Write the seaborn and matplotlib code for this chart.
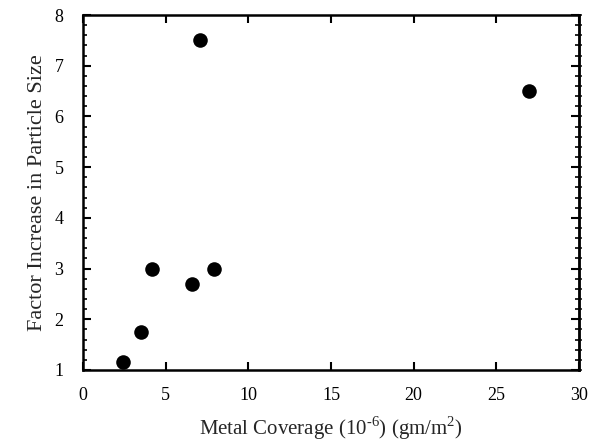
import numpy as np
import pandas as pd
import matplotlib
matplotlib.use('Agg')
import matplotlib.pyplot as plt
from matplotlib.ticker import MultipleLocator, NullFormatter
import seaborn as sns

# data
coverage = [2.4, 3.5, 4.2, 6.6, 7.1, 7.9, 27.0]
factor = [1.15, 1.75, 3.0, 2.7, 7.5, 3.0, 6.5]

df = pd.DataFrame({'coverage': coverage, 'factor': factor})

sns.set_style('ticks')
plt.rcParams['font.family'] = ['Liberation Serif', 'DejaVu Serif']
plt.rcParams['mathtext.fontset'] = 'custom'
plt.rcParams['mathtext.rm'] = 'Liberation Serif'

fig = plt.figure(figsize=(5.91, 4.43), dpi=100)
ax = fig.add_axes([83/591, 1 - 370/443, (579-83)/591, (370-15)/443])

sns.scatterplot(ax=ax, data=df, x='coverage', y='factor', color='black',
                s=110, edgecolor='black', linewidth=0, zorder=3)

ax.set_xlim(0, 30)
ax.set_ylim(1, 8)
ax.xaxis.set_major_locator(MultipleLocator(5))
ax.yaxis.set_major_locator(MultipleLocator(1))
ax.yaxis.set_minor_locator(MultipleLocator(0.2))

for s in ax.spines.values():
    s.set_linewidth(1.8)
    s.set_color('black')

ax.tick_params(which='both', direction='in', top=True, right=True,
               labelsize=13, colors='black')
ax.tick_params(which='major', length=6, width=1.5)
ax.tick_params(which='minor', length=3, width=1.2)
ax.tick_params(axis='y', which='both', pad=14)
ax.tick_params(axis='x', which='both', pad=12)

# right side minor ticks poke out a little too
sec = ax.secondary_yaxis('right')
sec.yaxis.set_major_locator(MultipleLocator(1))
sec.yaxis.set_minor_locator(MultipleLocator(0.2))
sec.yaxis.set_major_formatter(NullFormatter())
sec.tick_params(which='both', direction='out', length=2, width=1.2)
sec.spines['right'].set_linewidth(1.8)

ax.set_xlabel('Metal Coverage (10$^{\\text{-}6}$) (gm/m$^{2}$)', fontsize=15, labelpad=8)
ax.set_ylabel('Factor Increase in Particle Size', fontsize=16, labelpad=5)

fig.savefig('out.png', dpi=100)
